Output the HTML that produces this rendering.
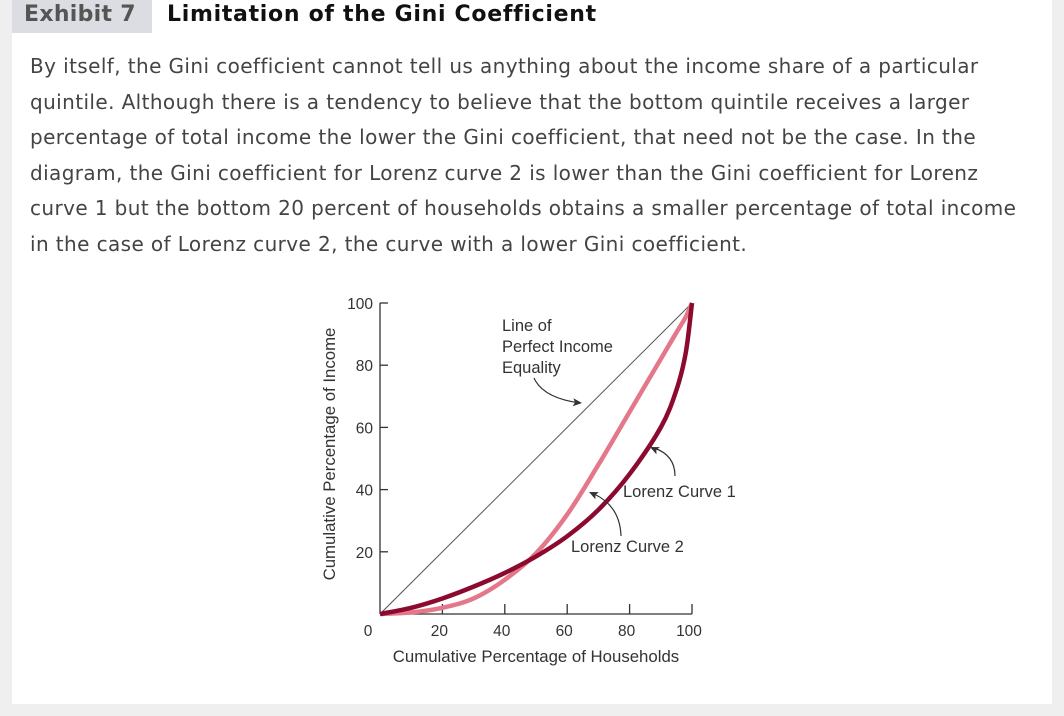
<!DOCTYPE html>
<html><head><meta charset="utf-8"><style>
body{margin:0;width:1064px;height:716px;background:#efefef;font-family:"DejaVu Sans","Liberation Sans",sans-serif;overflow:hidden;position:relative}
#panel{position:absolute;left:12px;top:0;width:1040px;height:704px;background:#fff}
#ex{position:absolute;left:12px;top:0;width:140px;height:33px;background:#dcdce3;color:#555;font-weight:bold;font-size:22px;line-height:29px;padding-left:12px;box-sizing:border-box;letter-spacing:0.3px}
#title{position:absolute;left:167px;top:0;font-weight:bold;font-size:22px;line-height:29px;color:#111;letter-spacing:0.7px}
#body{position:absolute;left:30px;top:49px;width:1020px;font-size:20px;line-height:35.5px;color:#444;letter-spacing:0.4px;white-space:nowrap}
svg{position:absolute;left:0;top:0}
</style></head><body>
<div id="panel"></div>
<div id="ex">Exhibit 7</div>
<div id="title">Limitation of the Gini Coefficient</div>
<div id="body">By itself, the Gini coefficient cannot tell us anything about the income share of a particular<br>quintile. Although there is a tendency to believe that the bottom quintile receives a larger<br>percentage of total income the lower the Gini coefficient, that need not be the case. In the<br>diagram, the Gini coefficient for Lorenz curve 2 is lower than the Gini coefficient for Lorenz<br>curve 1 but the bottom 20 percent of households obtains a smaller percentage of total income<br>in the case of Lorenz curve 2, the curve with a lower Gini coefficient.</div>
<svg id="chart" width="1064" height="716" font-family="Liberation Sans, sans-serif"></svg>
<script>
const xs=[0,10,20,30,40,50,60,70,80,90,95,98,100];
const curve1=[0,2,5,8.8,13.2,18.5,25,33.5,45,60,72,84,100];
const curve2=[0,0.5,2,5,11,19.5,32,48,65,82,90.5,95.5,100];
const ticks=[20,40,60,80,100];
const svg=document.getElementById('chart');const NS='http://www.w3.org/2000/svg';
const X=v=>380+v*3.12, Y=v=>614-v*3.11;
function mk(t,a,p){const e=document.createElementNS(NS,t);for(const k in a)e.setAttribute(k,a[k]);(p||svg).appendChild(e);return e;}
let e;
e=mk('path',{d:`M${X(0)} ${Y(100)}V${Y(0)}`,stroke:'#333','stroke-width':1.3,fill:'none'});

e=mk('path',{d:`M${X(0)} ${Y(0)}H${X(100)}`,stroke:'#333','stroke-width':1.3,fill:'none'});

ticks.forEach(t=>{
 e=mk('line',{x1:X(0),x2:X(0)+8,y1:Y(t),y2:Y(t),stroke:'#333','stroke-width':1.3});
 
 e=mk('text',{x:X(0)-7,y:Y(t)+6,'text-anchor':'end','font-size':15.5,fill:'#333'});e.textContent=t;
 
 e=mk('line',{x1:X(t),x2:X(t),y1:Y(0),y2:Y(0)-10,stroke:'#333','stroke-width':1.3});
 
 e=mk('text',{x:X(t)-3,y:Y(0)+22,'text-anchor':'middle','font-size':15.5,fill:'#333'});e.textContent=t;
 
});
e=mk('text',{x:368,y:Y(0)+22,'text-anchor':'middle','font-size':15.5,fill:'#333'});e.textContent='0';

e=mk('text',{x:536,y:662,'text-anchor':'middle','font-size':16.8,fill:'#333'});e.textContent='Cumulative Percentage of Households';

e=mk('text',{x:0,y:0,'text-anchor':'middle','font-size':16.8,fill:'#333',transform:'translate(335,454) rotate(-90)'});e.textContent='Cumulative Percentage of Income';

e=mk('line',{x1:X(0),y1:Y(0),x2:X(100),y2:Y(100),stroke:'#555','stroke-width':1});

function smooth(ys){let p=xs.map((x,i)=>[X(x),Y(ys[i])]);let d=`M${p[0][0]} ${p[0][1]}`;
 for(let i=0;i<p.length-1;i++){const p0=p[i-1]||p[i],p1=p[i],p2=p[i+1],p3=p[i+2]||p2;
 d+=`C${p1[0]+(p2[0]-p0[0])/6} ${p1[1]+(p2[1]-p0[1])/6} ${p2[0]-(p3[0]-p1[0])/6} ${p2[1]-(p3[1]-p1[1])/6} ${p2[0]} ${p2[1]}`;}return d;}
e=mk('path',{d:smooth(curve2),stroke:'#e4788a','stroke-width':4.5,fill:'none'});

e=mk('path',{d:smooth(curve1),stroke:'#8c0a2e','stroke-width':4.5,fill:'none'});

function lbl(x,y,t,n){e=mk('text',{x:x,y:y,'font-size':16.5,fill:'#333'});e.textContent=t;}
lbl(502,331,'Line of','equality-label');lbl(502,352,'Perfect Income','equality-label');lbl(502,373,'Equality','equality-label');
lbl(623,497,'Lorenz Curve 1','curve1-label');lbl(571,552,'Lorenz Curve 2','curve2-label');
function arrow(d,hx,hy,ang,n){e=mk('path',{d:d,stroke:'#333','stroke-width':1.2,fill:'none'});
 e=mk('path',{d:'M0 0L-9 -4L-7 0L-9 4Z',fill:'#333',transform:`translate(${hx},${hy}) rotate(${ang})`});}
arrow('M534 378Q543 398 580 403',582,403,5,'equality-arrow');
arrow('M675 476Q675 455 654 448',650,447,205,'curve1-arrow');
arrow('M621 536Q620 506 594 494',589,492,205,'curve2-arrow');
</script>
</body></html>
